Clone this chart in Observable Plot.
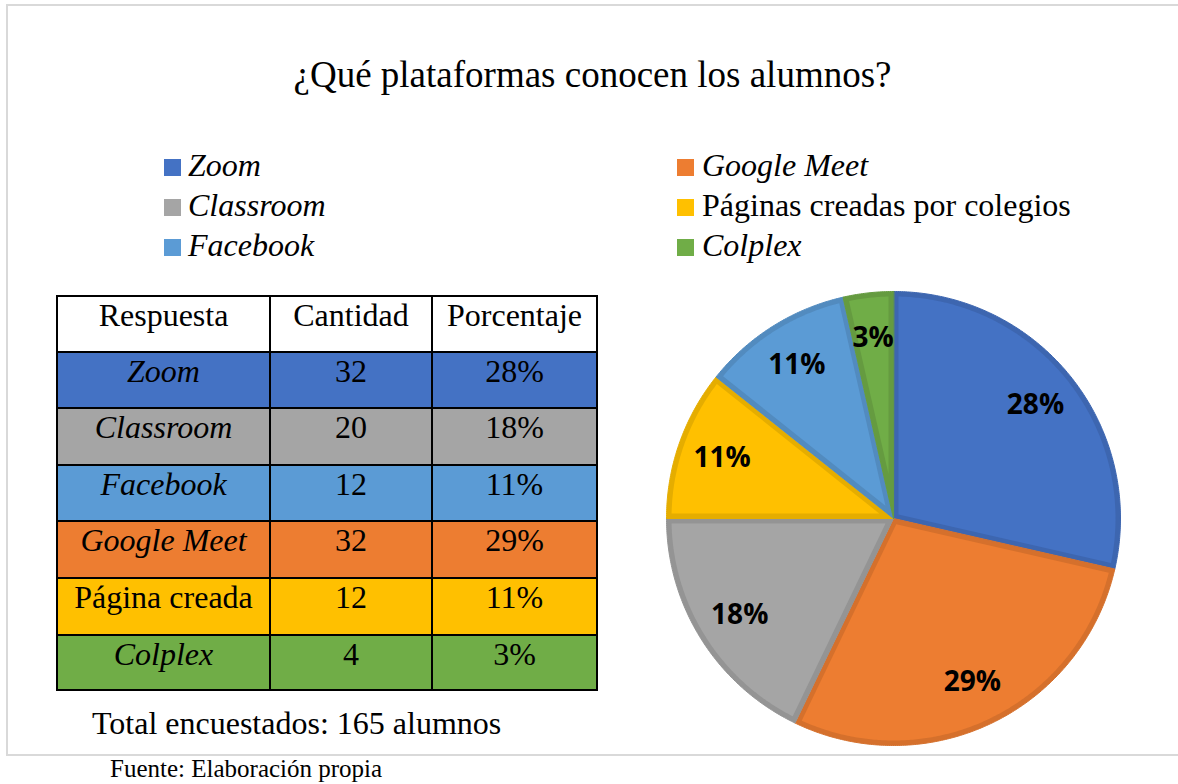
<!DOCTYPE html>
<html>
<head>
<meta charset="utf-8">
<script src="https://cdn.jsdelivr.net/npm/d3@7"></script>
<script src="https://cdn.jsdelivr.net/npm/@observablehq/plot@0.6"></script>
<style>
  html, body { margin: 0; padding: 0; background: #fff; }
  body { width: 1178px; height: 784px; position: relative; overflow: hidden; font-family: "Liberation Serif", "Times New Roman", serif; color: #000; }
  #frame { position: absolute; left: 6px; top: 4px; width: 1176px; height: 752px; border: 2px solid #d9d9d9; box-sizing: border-box; }
  #title { position: absolute; left: 7px; width: 1171px; top: 53px; text-align: center; font-size: 37px; line-height: 44px; white-space: nowrap; }
  .leg { position: absolute; font-size: 32px; line-height: 40px; white-space: nowrap; }
  .leg .sw { display: inline-block; width: 17px; height: 17px; margin-right: 7px; }
  #tabla { position: absolute; left: 56px; top: 295px; background: #000; padding: 2px; display: grid; gap: 2px;
           grid-template-columns: 211px 160px 163px; grid-template-rows: 54px 54px 55px 54px 55px 55px 53px; }
  #tabla div { font-size: 32px; line-height: 36px; text-align: center; white-space: nowrap; overflow: hidden; }
  #total { position: absolute; left: 92px; top: 703px; font-size: 32px; line-height: 40px; white-space: nowrap; }
  #fuente { position: absolute; left: 110px; top: 754px; font-size: 25px; line-height: 30px; white-space: nowrap; }
  #pie { position: absolute; left: 643px; top: 268px; }
</style>
</head>
<body>
<div id="frame"></div>
<div id="title">¿Qué plataformas conocen los alumnos?</div>
<div id="legend"></div>
<div id="tabla"></div>
<div id="total"></div>
<div id="fuente">Fuente: Elaboración propia</div>
<div id="pie"></div>
<script>
// ---- Data ----
const titulo = "¿Qué plataformas conocen los alumnos?";
const encabezados = ["Respuesta", "Cantidad", "Porcentaje"];
const respuestas = ["Zoom", "Classroom", "Facebook", "Google Meet", "Página creada", "Colplex"];
const cantidades = [32, 20, 12, 32, 12, 4];
const porcentajes = ["28%", "18%", "11%", "29%", "11%", "3%"];
const colores = ["#4472C4", "#A5A5A5", "#5B9BD5", "#ED7D31", "#FFC000", "#70AD47"];
const cursiva = [true, true, true, true, false, true];
// legend (row-wise, two columns) and pie order (clockwise from 12 o'clock)
const leyendaOrden = ["Zoom", "Google Meet", "Classroom", "Página creada", "Facebook", "Colplex"];
const leyendaTexto = ["Zoom", "Google Meet", "Classroom", "Páginas creadas por colegios", "Facebook", "Colplex"];
const pieOrden = ["Zoom", "Google Meet", "Classroom", "Página creada", "Facebook", "Colplex"];
const totalTexto = "Total encuestados: 165 alumnos";

const idx = name => respuestas.indexOf(name);

// ---- Legend ----
const legend = document.getElementById("legend");
const legCols = [164, 677];
const legTops = [145, 185, 225];
leyendaOrden.forEach((name, i) => {
  const d = document.createElement("div");
  d.className = "leg";
  d.style.left = legCols[i % 2] + "px";
  d.style.top = legTops[Math.floor(i / 2)] + "px";
  const sw = document.createElement("span");
  sw.className = "sw";
  sw.style.background = colores[idx(name)];
  const t = document.createElement("span");
  t.textContent = leyendaTexto[i];
  if (cursiva[idx(name)]) t.style.fontStyle = "italic";
  if (i % 2 === 1) sw.style.marginRight = "8px";
  d.append(sw, t);
  legend.append(d);
});

// ---- Table ----
const tabla = document.getElementById("tabla");
encabezados.forEach(h => {
  const c = document.createElement("div");
  c.style.background = "#fff";
  c.textContent = h;
  tabla.append(c);
});
respuestas.forEach((r, i) => {
  [r, String(cantidades[i]), porcentajes[i]].forEach((v, j) => {
    const c = document.createElement("div");
    c.style.background = colores[i];
    c.textContent = v;
    if (j === 0 && cursiva[i]) c.style.fontStyle = "italic";
    tabla.append(c);
  });
});
document.getElementById("total").textContent = totalTexto;

// ---- Pie ----
const R = 227, size = 500;
const k = (size / 2) / R;
const band = 5 / R; // width of the darker inner edge band
const pieData = pieOrden.map(name => ({name, value: cantidades[idx(name)], label: porcentajes[idx(name)], color: colores[idx(name)]}));
const arcs = d3.pie().sort(null).value(d => d.value)(pieData);

function wedge(a0, a1, inset) {
  const half = (a1 - a0) / 2, mid = (a0 + a1) / 2;
  const apex = inset ? inset / Math.sin(half) : 0;
  const r = 1 - inset;
  const dA = inset ? Math.asin(inset / r) : 0;
  const s0 = a0 + dA, s1 = a1 - dA;
  const pts = [{x: apex * Math.sin(mid), y: apex * Math.cos(mid)}];
  const n = Math.max(2, Math.ceil((s1 - s0) / (Math.PI / 360)));
  for (let j = 0; j <= n; j++) {
    const t = s0 + (s1 - s0) * j / n;
    pts.push({x: r * Math.sin(t), y: r * Math.cos(t)});
  }
  return pts;
}

const marks = [];
arcs.forEach(a => {
  const dark = d3.color(a.data.color).darker(0.3).formatHex();
  marks.push(Plot.line(wedge(a.startAngle, a.endAngle, 0), {
    x: "x", y: "y", curve: "linear-closed",
    fill: dark, stroke: dark, strokeWidth: 1
  }));
  marks.push(Plot.line(wedge(a.startAngle, a.endAngle, band), {
    x: "x", y: "y", curve: "linear-closed",
    fill: a.data.color, stroke: "none"
  }));
});
const labels = arcs.map(a => {
  const m = (a.startAngle + a.endAngle) / 2;
  return {x: 0.8 * Math.sin(m), y: 0.8 * Math.cos(m), label: a.data.label};
});
marks.push(Plot.text(labels, {
  x: "x", y: "y", text: "label", fill: "#000",
  fontSize: 28, fontWeight: "bold", fontFamily: "'Open Sans', sans-serif"
}));

const svg = Plot.plot({
  width: size, height: size, margin: 0,
  x: {domain: [-k, k], axis: null},
  y: {domain: [-k, k], axis: null},
  style: {background: "transparent", overflow: "visible"},
  marks
});
document.getElementById("pie").append(svg);
</script>
</body>
</html>
